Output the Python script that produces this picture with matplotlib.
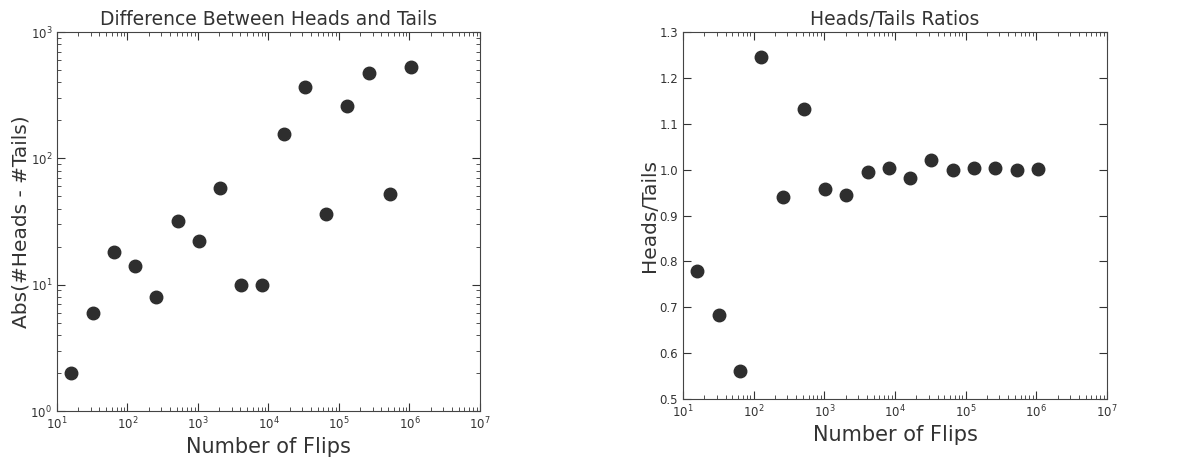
import matplotlib
matplotlib.use('Agg')
import matplotlib.pyplot as plt

# number of flips per trial (powers of two)
flips = [16, 32, 64, 128, 256, 512, 1024, 2048, 4096, 8192, 16384,
         32768, 65536, 131072, 262144, 524288, 1048576]

# abs(#heads - #tails)
diffs = [2, 6, 18, 14, 8, 32, 22, 58, 10, 10, 156, 364, 36, 258, 474, 52, 524]

# heads / tails
ratios = [0.778, 0.684, 0.561, 1.246, 0.940, 1.133, 0.958, 0.945, 0.995,
          1.003, 0.982, 1.022, 1.000, 1.004, 1.003, 1.000, 1.001]

dot_color = '#2e2e2e'


def style_axes(ax):
    ax.tick_params(which='both', direction='in', top=True, right=True,
                   labelsize=8.5, colors='#333333')
    ax.tick_params(which='major', length=6)
    ax.tick_params(which='minor', length=3)
    for sp in ax.spines.values():
        sp.set_color('#444444')


fig = plt.figure(figsize=(12, 4.61), dpi=100)

ax1 = fig.add_axes([57 / 1200, 1 - 411 / 461, 423 / 1200, 379 / 461])
ax1.plot(flips, diffs, 'o', color=dot_color, markersize=9)
ax1.set_xscale('log')
ax1.set_yscale('log')
ax1.set_xlim(10, 1e7)
ax1.set_ylim(1, 1e3)
ax1.set_title('Difference Between Heads and Tails', fontsize=13.5,
              color='#333333', pad=5)
ax1.set_xlabel('Number of Flips', fontsize=15, color='#333333', labelpad=3)
ax1.set_ylabel('Abs(#Heads - #Tails)', fontsize=14.5, color='#333333',
               labelpad=0)
style_axes(ax1)

ax2 = fig.add_axes([683 / 1200, 1 - 399 / 461, 424 / 1200, 367 / 461])
ax2.plot(flips, ratios, 'o', color=dot_color, markersize=9)
ax2.set_xscale('log')
ax2.set_xlim(10, 1e7)
ax2.set_ylim(0.5, 1.3)
ax2.set_yticks([0.5, 0.6, 0.7, 0.8, 0.9, 1.0, 1.1, 1.2, 1.3])
ax2.set_title('Heads/Tails Ratios', fontsize=13.5, color='#333333', pad=5)
ax2.set_xlabel('Number of Flips', fontsize=15, color='#333333', labelpad=3)
ax2.set_ylabel('Heads/Tails', fontsize=14.5, color='#333333', labelpad=0)
style_axes(ax2)

fig.savefig('out.png', dpi=100)
